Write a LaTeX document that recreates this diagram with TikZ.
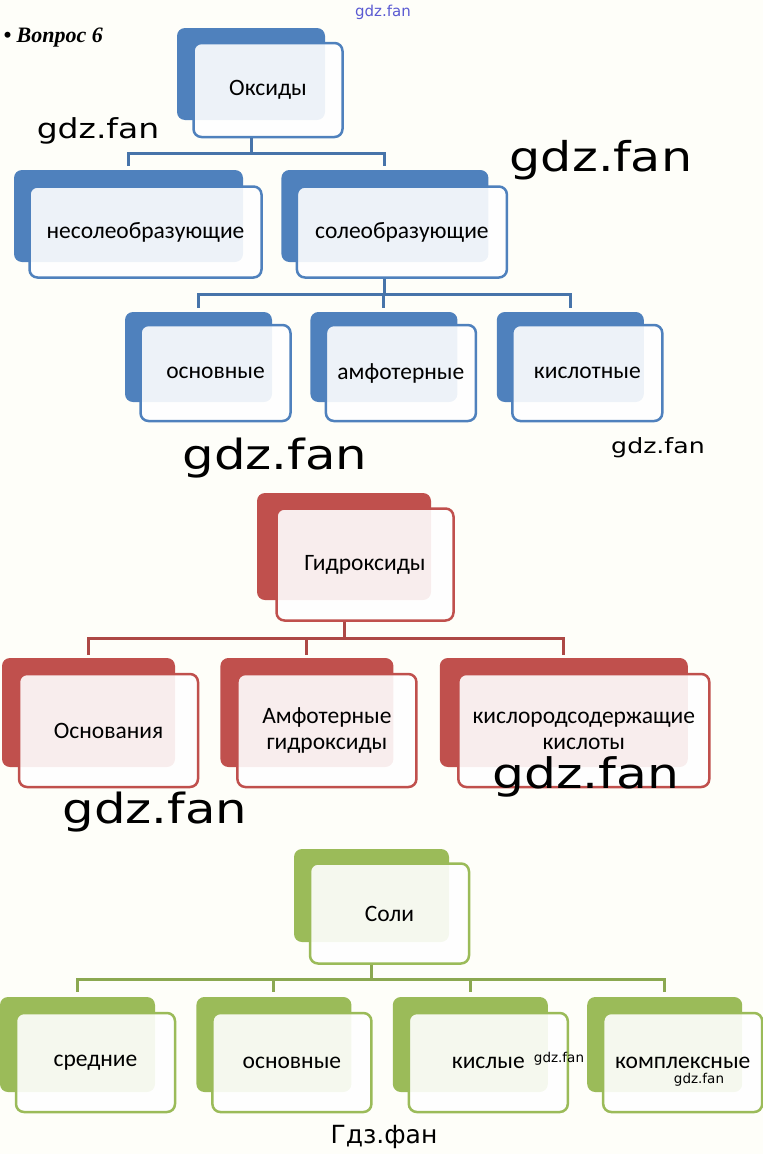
\documentclass[tikz,border=0pt]{standalone}
\usepackage{fontspec}
\setmainfont{Carlito}
\newfontfamily\titlefont{Liberation Serif}
\newfontfamily\wmfont[FakeStretch=1.2]{DejaVu Sans}
\newfontfamily\wmplain{DejaVu Sans}
\usepackage{tikz}
\usetikzlibrary{positioning}
\definecolor{paper}{RGB}{254,254,249}
\definecolor{oxblue}{RGB}{79,129,189}
\definecolor{hyred}{RGB}{192,80,77}
\definecolor{salgreen}{RGB}{155,187,89}
\definecolor{wmblue}{RGB}{90,90,210}
\tikzstyle{backbox} = [rectangle, rounded corners=8pt, inner sep=0pt]
\tikzstyle{frontbox} = [rectangle, rounded corners=8pt, inner sep=0pt, fill=white, fill opacity=0.9, text opacity=1, line width=2.5pt, align=center, font=\fontsize{23.5}{26}\selectfont]
\tikzstyle{link} = [draw, line width=3pt]
\tikzstyle{wm} = [inner sep=0pt]

\begin{document}
\begin{tikzpicture}[x=1pt, y=-1pt]
    \useasboundingbox (0,0) rectangle (763,1154);
    \fill[paper] (0,0) rectangle (763,1154);
    \node[anchor=west, font=\titlefont\bfseries\itshape\fontsize{22}{26}\selectfont] (TITLE) at (0,38) {• Вопрос 6};

    % oxides
    \node[backbox, fill=oxblue, minimum width=148pt, minimum height=92pt] (OXb) at (251,74) {};
    \node[frontbox, draw=oxblue, minimum width=149pt, minimum height=94pt] (OX) at ([shift={(17pt,-16pt)}]OXb) {Оксиды};
    \node[backbox, fill=oxblue, minimum width=229pt, minimum height=92pt] (NSOb) at (128.5,216) {};
    \node[backbox, fill=oxblue, minimum width=207pt, minimum height=92pt, right=38pt of NSOb] (SOb) {};
    \node[frontbox, draw=oxblue, minimum width=232pt, minimum height=91pt] (NSO) at ([shift={(17pt,-16pt)}]NSOb) {несолеобразующие};
    \node[frontbox, draw=oxblue, minimum width=210pt, minimum height=91pt] (SO) at ([shift={(17pt,-16pt)}]SOb) {солеобразующие};
    \node[backbox, fill=oxblue, minimum width=147pt, minimum height=90pt] (OSNb) at (198.5,357) {};
    \node[backbox, fill=oxblue, minimum width=147pt, minimum height=90pt, right=38pt of OSNb] (AMFb) {};
    \node[backbox, fill=oxblue, minimum width=147pt, minimum height=90pt, right=39pt of AMFb] (KISb) {};
    \node[frontbox, draw=oxblue, minimum width=150pt, minimum height=96pt] (OSN) at ([shift={(17pt,-16pt)}]OSNb) {основные};
    \node[frontbox, draw=oxblue, minimum width=150pt, minimum height=96pt] (AMF) at ([shift={(17pt,-16pt)}]AMFb) {амфотерные};
    \node[frontbox, draw=oxblue, minimum width=150pt, minimum height=96pt] (KIS) at ([shift={(17pt,-16pt)}]KISb) {кислотные};
    \coordinate (BAR1) at ([yshift=-15pt]OX.south);
    \coordinate (BAR2) at ([yshift=-16pt]SO.south);
    \path[link, draw=oxblue!90!black] (OXb |- OX.south) -- (OXb |- BAR1);
    \path[link, draw=oxblue!90!black] ([yshift=4pt]NSOb.north) |- (BAR1) -| ([yshift=4pt]SOb.north);
    \path[link, draw=oxblue!90!black] (SOb |- SO.south) -- (SOb |- BAR2);
    \path[link, draw=oxblue!90!black] ([yshift=4pt]OSNb.north) |- (BAR2) -| ([yshift=4pt]KISb.north);
    \path[link, draw=oxblue!90!black] (AMFb |- BAR2) -- ([yshift=4pt]AMFb.north);

    % hydroxides
    \node[backbox, fill=hyred, minimum width=174pt, minimum height=107pt] (GIDb) at (344,546.5) {};
    \node[frontbox, draw=hyred, minimum width=177pt, minimum height=112pt] (GID) at ([shift={(21pt,-18pt)}]GIDb) {Гидроксиды};
    \node[backbox, fill=hyred, minimum width=173pt, minimum height=109pt] (OSNVb) at (88.5,712.5) {};
    \node[backbox, fill=hyred, minimum width=173pt, minimum height=109pt, right=45pt of OSNVb] (AMGb) {};
    \node[backbox, fill=hyred, minimum width=248pt, minimum height=109pt, right=46pt of AMGb] (KSKb) {};
    \node[frontbox, draw=hyred, minimum width=179pt, minimum height=113pt] (OSNV) at ([shift={(20pt,-18pt)}]OSNVb) {Основания};
    \node[frontbox, draw=hyred, minimum width=179pt, minimum height=113pt] (AMG) at ([shift={(20pt,-18pt)}]AMGb) {Амфотерные\\гидроксиды};
    \node[frontbox, draw=hyred, minimum width=251pt, minimum height=113pt] (KSK) at ([shift={(20pt,-18pt)}]KSKb) {кислородсодержащие\\кислоты};
    \coordinate (BAR3) at ([yshift=-17pt]GID.south);
    \path[link, draw=hyred!90!black] (GIDb |- GID.south) -- (GIDb |- BAR3);
    \path[link, draw=hyred!90!black] ([yshift=3pt]OSNVb.north) |- (BAR3) -| ([yshift=3pt]KSKb.north);
    \path[link, draw=hyred!90!black] (AMGb |- BAR3) -- ([yshift=3pt]AMGb.north);

    % salts
    \node[backbox, fill=salgreen, minimum width=155pt, minimum height=93pt] (SOLb) at (371.5,895.5) {};
    \node[frontbox, draw=salgreen, minimum width=159pt, minimum height=100pt] (SOL) at ([shift={(18pt,-18pt)}]SOLb) {Соли};
    \node[backbox, fill=salgreen, minimum width=155pt, minimum height=95pt] (SRDb) at (77.5,1044.5) {};
    \node[backbox, fill=salgreen, minimum width=155pt, minimum height=95pt, right=41pt of SRDb] (OSNSb) {};
    \node[backbox, fill=salgreen, minimum width=155pt, minimum height=95pt, right=41pt of OSNSb] (KSLb) {};
    \node[backbox, fill=salgreen, minimum width=155pt, minimum height=95pt, right=39pt of KSLb] (KMPb) {};
    \node[frontbox, draw=salgreen, minimum width=159pt, minimum height=99pt] (SRD) at ([shift={(18pt,-18pt)}]SRDb) {средние};
    \node[frontbox, draw=salgreen, minimum width=159pt, minimum height=99pt] (OSNS) at ([shift={(18pt,-18pt)}]OSNSb) {основные};
    \node[frontbox, draw=salgreen, minimum width=159pt, minimum height=99pt] (KSL) at ([shift={(18pt,-18pt)}]KSLb) {кислые};
    \node[frontbox, draw=salgreen, minimum width=159pt, minimum height=99pt] (KMP) at ([shift={(18pt,-18pt)}]KMPb) {комплексные};
    \coordinate (BAR4) at ([yshift=-15pt]SOL.south);
    \path[link, draw=salgreen!90!black] (SOLb |- SOL.south) -- (SOLb |- BAR4);
    \path[link, draw=salgreen!90!black] ([yshift=5pt]SRDb.north) |- (BAR4) -| ([yshift=5pt]KMPb.north);
    \path[link, draw=salgreen!90!black] (OSNSb |- BAR4) -- ([yshift=5pt]OSNSb.north);
    \path[link, draw=salgreen!90!black] (KSLb |- BAR4) -- ([yshift=5pt]KSLb.north);

    % watermarks
    \node[wm, font=\wmplain\fontsize{15}{18}\selectfont, text=wmblue] (WM1) at (383,12) {gdz.fan};
    \node[wm, font=\wmfont\fontsize{27.5}{33}\selectfont] (WM2) at (98,131) {gdz.fan};
    \node[wm, font=\wmfont\fontsize{41}{49}\selectfont] (WM3) at (601,160) {gdz.fan};
    \node[wm, font=\wmfont\fontsize{41.5}{50}\selectfont] (WM4) at (275,458) {gdz.fan};
    \node[wm, font=\wmfont\fontsize{21}{25}\selectfont] (WM5) at (658,448) {gdz.fan};
    \node[wm, font=\wmfont\fontsize{42}{50}\selectfont] (WM6) at (586,777) {gdz.fan};
    \node[wm, font=\wmfont\fontsize{41.5}{50}\selectfont] (WM7) at (155,812) {gdz.fan};
    \node[wm, font=\wmplain\fontsize{13.5}{16}\selectfont] (WM8) at (559,1059) {gdz.fan};
    \node[wm, font=\wmplain\fontsize{13.5}{16}\selectfont] (WM9) at (699,1080) {gdz.fan};
    \node[wm, font=\wmplain\fontsize{25}{30}\selectfont] (WM10) at (384,1137) {Гдз.фан};
\end{tikzpicture}
\end{document}
